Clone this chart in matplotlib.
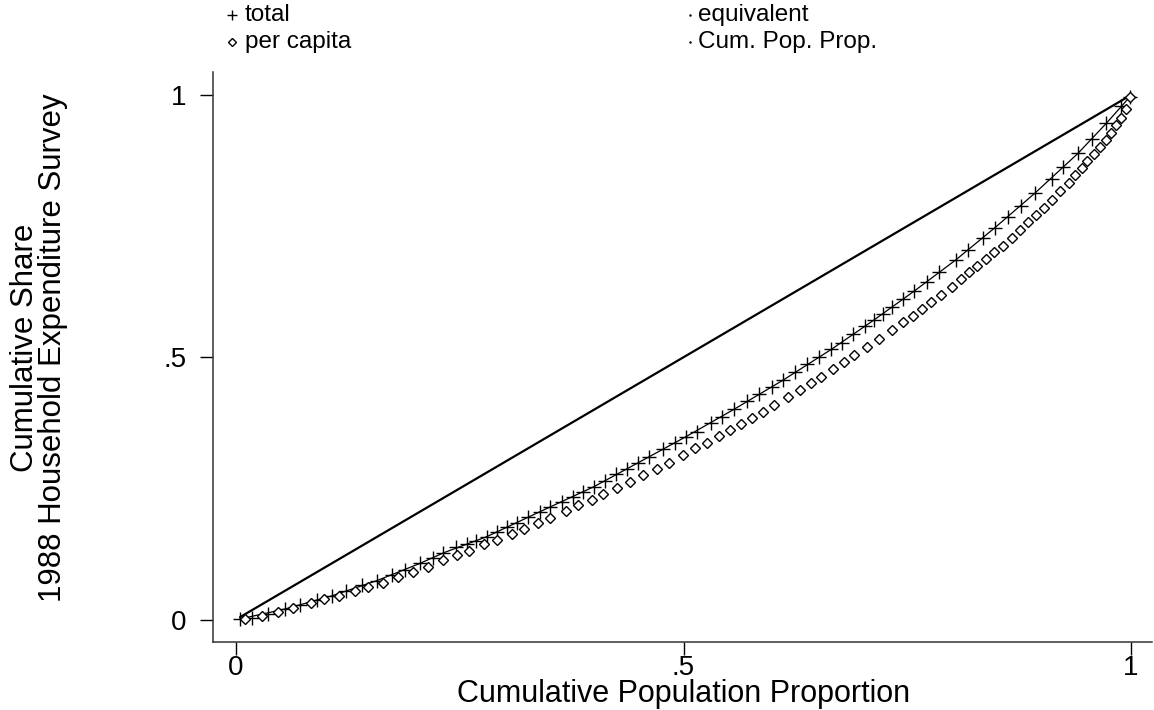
import matplotlib
matplotlib.use("Agg")
import matplotlib.pyplot as plt
from matplotlib.lines import Line2D

plt.rcParams['font.family'] = ['Liberation Sans', 'DejaVu Sans']

# ---- data ----
total_x = [0.0045, 0.0175, 0.0361, 0.0547, 0.0715, 0.0901, 0.1069, 0.1225, 0.1404, 0.1572,
           0.1739, 0.1888, 0.2056, 0.2205, 0.2317, 0.2458, 0.2577, 0.2682, 0.2801, 0.2920,
           0.3024, 0.3136, 0.3266, 0.3397, 0.3508, 0.3639, 0.3762, 0.3881, 0.4000, 0.4123,
           0.4246, 0.4372, 0.4495, 0.4618, 0.4775, 0.4905, 0.5028, 0.5147, 0.5304, 0.5426,
           0.5564, 0.5706, 0.5847, 0.5985, 0.6115, 0.6242, 0.6376, 0.6514, 0.6652, 0.6767,
           0.6898, 0.7032, 0.7128, 0.7225, 0.7333, 0.7449, 0.7579, 0.7724, 0.7859, 0.8041,
           0.8183, 0.8343, 0.8480, 0.8622, 0.8771, 0.8924, 0.9117, 0.9240, 0.9408, 0.9561,
           0.9724, 0.9885, 0.9989]
total_y = [0.0010, 0.0035, 0.0100, 0.0200, 0.0280, 0.0380, 0.0450, 0.0540, 0.0650, 0.0740,
           0.0850, 0.0950, 0.1070, 0.1180, 0.1270, 0.1376, 0.1433, 0.1503, 0.1579, 0.1675,
           0.1757, 0.1846, 0.1948, 0.2056, 0.2151, 0.2234, 0.2342, 0.2437, 0.2533, 0.2647,
           0.2768, 0.2863, 0.2990, 0.3105, 0.3244, 0.3371, 0.3486, 0.3581, 0.3740, 0.3867,
           0.4007, 0.4166, 0.4299, 0.4439, 0.4566, 0.4712, 0.4865, 0.5011, 0.5151, 0.5278,
           0.5437, 0.5596, 0.5710, 0.5825, 0.5952, 0.6104, 0.6263, 0.6441, 0.6625, 0.6854,
           0.7051, 0.7267, 0.7471, 0.7668, 0.7884, 0.8125, 0.8405, 0.8621, 0.8888, 0.9167,
           0.9460, 0.9790, 0.9968]

percap_x = [0.0101, 0.0287, 0.0466, 0.0641, 0.0838, 0.0987, 0.1151, 0.1330, 0.1479, 0.1646,
            0.1814, 0.1981, 0.2149, 0.2309, 0.2473, 0.2607, 0.2775, 0.2912, 0.3080, 0.3222,
            0.3378, 0.3508, 0.3687, 0.3817, 0.3974, 0.4104, 0.4253, 0.4402, 0.4551, 0.4700,
            0.4842, 0.4991, 0.5128, 0.5266, 0.5400, 0.5520, 0.5642, 0.5769, 0.5885, 0.6011,
            0.6171, 0.6302, 0.6425, 0.6540, 0.6667, 0.6797, 0.6905, 0.7047, 0.7181, 0.7333,
            0.7456, 0.7560, 0.7661, 0.7765, 0.7877, 0.7996, 0.8097, 0.8194, 0.8283, 0.8380,
            0.8469, 0.8574, 0.8667, 0.8760, 0.8845, 0.8939, 0.9028, 0.9117, 0.9211, 0.9304,
            0.9378, 0.9453, 0.9512, 0.9583, 0.9650, 0.9717, 0.9777, 0.9836, 0.9888, 0.9944,
            0.9989]
percap_y = [0.0003, 0.0067, 0.0149, 0.0226, 0.0321, 0.0385, 0.0448, 0.0550, 0.0626, 0.0702,
            0.0804, 0.0912, 0.1007, 0.1134, 0.1230, 0.1306, 0.1433, 0.1516, 0.1624, 0.1725,
            0.1834, 0.1929, 0.2075, 0.2177, 0.2278, 0.2393, 0.2501, 0.2622, 0.2755, 0.2876,
            0.2990, 0.3136, 0.3263, 0.3371, 0.3499, 0.3613, 0.3727, 0.3848, 0.3962, 0.4083,
            0.4236, 0.4376, 0.4503, 0.4623, 0.4770, 0.4909, 0.5037, 0.5189, 0.5354, 0.5520,
            0.5666, 0.5793, 0.5920, 0.6047, 0.6187, 0.6346, 0.6486, 0.6625, 0.6746, 0.6867,
            0.7000, 0.7127, 0.7274, 0.7420, 0.7572, 0.7706, 0.7846, 0.7998, 0.8163, 0.8316,
            0.8469, 0.8602, 0.8735, 0.8869, 0.9002, 0.9142, 0.9282, 0.9422, 0.9561, 0.9739,
            0.9955]

equiv_x = [0.0045, 0.0547, 0.1069, 0.1572, 0.2056, 0.2317, 0.2801, 0.3397, 0.4000, 0.4495,
           0.5028, 0.5564, 0.6115, 0.6652, 0.7128, 0.7579, 0.8041, 0.8480, 0.8924, 0.9408,
           0.9724, 0.9989]
equiv_y = [0.0010, 0.0200, 0.0450, 0.0740, 0.1070, 0.1270, 0.1579, 0.2056, 0.2533, 0.2990,
           0.3486, 0.4007, 0.4566, 0.5151, 0.5710, 0.6263, 0.6854, 0.7471, 0.8125, 0.8888,
           0.9460, 0.9968]

cum_x = [0.0045, 0.25, 0.50, 0.75, 0.9989]
cum_y = [0.0045, 0.25, 0.50, 0.75, 0.9989]

x_ticks = [0, 0.5, 1]
x_tick_labels = ['0', '.5', '1']
y_ticks = [0, 0.5, 1]
y_tick_labels = ['0', '.5', '1']

W, H = 1154, 710
fig = plt.figure(figsize=(W / 100, H / 100), dpi=100)

# axes placement in pixels
left_px, right_px, top_px, bottom_px = 212.5, 1152, 72, 642
ax = fig.add_axes([left_px / W, 1 - bottom_px / H, (right_px - left_px) / W, (bottom_px - top_px) / H])

# data -> pixel mapping: x 0->236, 1->1131 ; y 0->619.5, 1->95
x0p, x1p = 236.0, 1131.0
y0p, y1p = 619.5, 95.0
ax.set_xlim((left_px - x0p) / (x1p - x0p), (right_px - x0p) / (x1p - x0p))
ax.set_ylim((y0p - bottom_px) / (y0p - y1p), (y0p - top_px) / (y0p - y1p))

ax.plot(cum_x, cum_y, color='black', lw=1.6, solid_capstyle='round')
ax.plot(equiv_x, equiv_y, color='black', lw=0.9)
ax.plot(total_x, total_y, ls='none', marker='+', ms=9.5, mew=1.0, color='black')
ax.plot(percap_x, percap_y, ls='none', marker='D', ms=5.2, mew=1.0,
        markerfacecolor='white', markeredgecolor='black')

for s in ['top', 'right']:
    ax.spines[s].set_visible(False)
for s in ['left', 'bottom']:
    ax.spines[s].set_linewidth(1.1)
    ax.spines[s].set_color('#333333')

ax.set_xticks(x_ticks)
ax.set_xticklabels(x_tick_labels)
ax.set_yticks(y_ticks)
ax.set_yticklabels(y_tick_labels)
ax.tick_params(axis='both', direction='out', length=9.5, width=1.0, labelsize=20, colors='black')
ax.tick_params(axis='y', pad=9)
ax.tick_params(axis='x', pad=0)

# axis titles
fig.text(684 / W, 1 - 694 / H, 'Cumulative Population Proportion', ha='center', va='center', fontsize=22)
fig.text(39 / W, 1 - 348 / H, 'Cumulative Share\n1988 Household Expenditure Survey',
         ha='center', va='center', rotation=90, fontsize=22.5, linespacing=0.93)

# legend (manual)
def leg_item(xm, ym, xt, label, marker, ms, mfc='black'):
    fig.add_artist(Line2D([xm / W], [1 - ym / H], transform=fig.transFigure, ls='none',
                          marker=marker, ms=ms, mew=1.0, color='black', markerfacecolor=mfc))
    fig.text(xt / W, 1 - ym / H, label, ha='left', va='center', fontsize=17.5)

leg_item(232, 15, 245, 'total', '+', 7)
leg_item(232, 42, 245, 'per capita', 'D', 3.8, 'white')
leg_item(690, 15, 698, 'equivalent', '.', 1.5)
leg_item(690, 42, 698, 'Cum. Pop. Prop.', '.', 1.5)

fig.savefig('out.png', dpi=100)
